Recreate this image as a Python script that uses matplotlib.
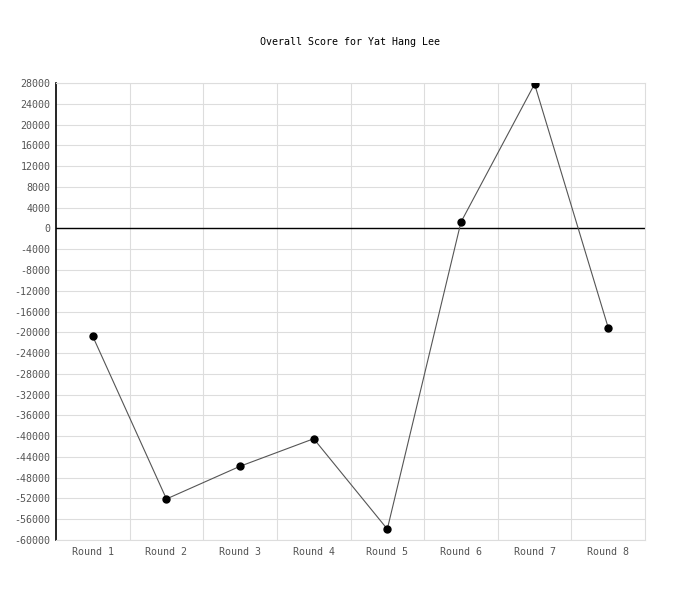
import matplotlib
matplotlib.use("Agg")
import matplotlib.pyplot as plt
import numpy as np

categories = ["Round 1", "Round 2", "Round 3", "Round 4", "Round 5", "Round 6", "Round 7", "Round 8"]
scores = [-20800, -52100, -45800, -40500, -57900, 1200, 27800, -19100]
yticks = list(range(-60000, 28001, 4000))
title = "Overall Score for Yat Hang Lee"

plt.rcParams['font.family'] = ['DejaVu Sans Mono']
fig = plt.figure(figsize=(7, 6), dpi=100)
ax = fig.add_axes([56/700, 1-540/600, (645-56)/700, (540-83)/600])

x = np.arange(len(categories))
ax.plot(x, scores, color="#555555", lw=0.8, zorder=3)
ax.plot(x, scores, 'o', color="black", ms=5, zorder=4)

ax.set_xlim(-0.5, len(categories) - 0.5)
ax.set_ylim(-60000, 28000)
ax.set_yticks(yticks)
ax.set_yticklabels([str(v) for v in yticks])
ax.set_xticks(x)
ax.set_xticklabels(categories)
ax.set_xticks(np.arange(0.5, len(categories) - 0.5, 1), minor=True)
ax.tick_params(axis='both', which='both', length=0, labelsize=7.2, colors="#555555")
ax.tick_params(axis='y', pad=4)
ax.tick_params(axis='x', pad=5)
ax.grid(True, axis='y', which='major', color="#dddddd", lw=0.8, zorder=0)
ax.grid(True, axis='x', which='minor', color="#dddddd", lw=0.8, zorder=0)
ax.axhline(0, color="black", lw=1, zorder=2)

for s in ['top', 'right', 'bottom']:
    ax.spines[s].set_color("#dddddd")
    ax.spines[s].set_linewidth(0.8)
ax.spines['left'].set_color("black")
ax.spines['left'].set_linewidth(1.2)

fig.text(0.5, 1-42/600, title, ha='center', va='center', fontsize=7.2, color="black")

fig.savefig("out.png", dpi=100)
